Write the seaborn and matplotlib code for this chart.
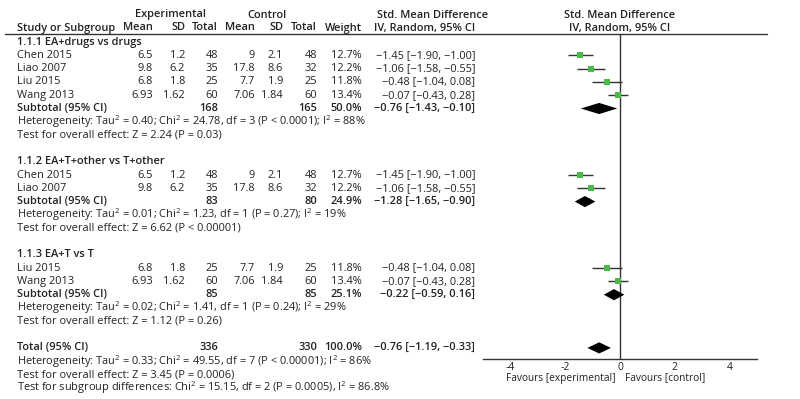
import matplotlib
matplotlib.use("Agg")
import matplotlib.pyplot as plt
import matplotlib.transforms as mtransforms
import pandas as pd
import seaborn as sns

# ---- data ----
group_titles = ["1.1.1 EA+drugs vs drugs", "1.1.2 EA+T+other vs T+other", "1.1.3 EA+T vs T"]
group_ids = [0, 0, 0, 0, 1, 1, 2, 2]
studies = ["Chen 2015", "Liao 2007", "Liu 2015", "Wang 2013",
           "Chen 2015", "Liao 2007",
           "Liu 2015", "Wang 2013"]
exp_mean = ["6.5", "9.8", "6.8", "6.93", "6.5", "9.8", "6.8", "6.93"]
exp_sd = ["1.2", "6.2", "1.8", "1.62", "1.2", "6.2", "1.8", "1.62"]
exp_n = [48, 35, 25, 60, 48, 35, 25, 60]
ctl_mean = ["9", "17.8", "7.7", "7.06", "9", "17.8", "7.7", "7.06"]
ctl_sd = ["2.1", "8.6", "1.9", "1.84", "2.1", "8.6", "1.9", "1.84"]
ctl_n = [48, 32, 25, 60, 48, 32, 25, 60]
weights = ["12.7%", "12.2%", "11.8%", "13.4%", "12.7%", "12.2%", "11.8%", "13.4%"]
smd = [-1.45, -1.06, -0.48, -0.07, -1.45, -1.06, -0.48, -0.07]
ci_lo = [-1.90, -1.58, -1.04, -0.43, -1.90, -1.58, -1.04, -0.43]
ci_hi = [-1.00, -0.55, 0.08, 0.28, -1.00, -0.55, 0.08, 0.28]

sub_exp_n = [168, 83, 85]
sub_ctl_n = [165, 80, 85]
sub_weight = ["50.0%", "24.9%", "25.1%"]
sub_smd = [-0.76, -1.28, -0.22]
sub_lo = [-1.43, -1.65, -0.59]
sub_hi = [-0.10, -0.90, 0.16]
sub_het = ["Heterogeneity: Tau$^2$ = 0.40; Chi$^2$ = 24.78, df = 3 (P < 0.0001); I$^2$ = 88%",
           "Heterogeneity: Tau$^2$ = 0.01; Chi$^2$ = 1.23, df = 1 (P = 0.27); I$^2$ = 19%",
           "Heterogeneity: Tau$^2$ = 0.02; Chi$^2$ = 1.41, df = 1 (P = 0.24); I$^2$ = 29%"]
sub_test = ["Test for overall effect: Z = 2.24 (P = 0.03)",
            "Test for overall effect: Z = 6.62 (P < 0.00001)",
            "Test for overall effect: Z = 1.12 (P = 0.26)"]

total_exp_n = 336
total_ctl_n = 330
total_weight = "100.0%"
total_smd = -0.76
total_lo = -1.19
total_hi = -0.33
total_notes = ["Heterogeneity: Tau$^2$ = 0.33; Chi$^2$ = 49.55, df = 7 (P < 0.00001); I$^2$ = 86%",
               "Test for overall effect: Z = 3.45 (P = 0.0006)",
               "Test for subgroup differences: Chi$^2$ = 15.15, df = 2 (P = 0.0005), I$^2$ = 86.8%"]

x_ticks = [-4, -2, 0, 2, 4]

# ---- build row layout ----
study_rows = []
sub_rows = []
rows_text = []  # (row, kind, text)
r = 0
for g, title in enumerate(group_titles):
    rows_text.append((r, "title", title))
    r += 1
    for i, gid in enumerate(group_ids):
        if gid == g:
            study_rows.append(r)
            r += 1
    sub_rows.append(r)
    r += 1
    rows_text.append((r, "note", sub_het[g]))
    r += 1
    rows_text.append((r, "note", sub_test[g]))
    r += 2
total_row = r
for k, note in enumerate(total_notes):
    rows_text.append((total_row + 1 + k, "note", note))

df = pd.DataFrame({"study": studies, "smd": smd, "lo": ci_lo, "hi": ci_hi,
                   "row": study_rows})

# ---- figure ----
sns.set_style("white")
plt.rcParams["font.family"] = ["Open Sans", "DejaVu Sans"]
plt.rcParams["mathtext.fontset"] = "custom"
plt.rcParams["mathtext.rm"] = "Open Sans"
W, H = 800, 399
fig = plt.figure(figsize=(8, 3.99), dpi=100)

row0_px, row_h = 42.0, 13.3
top_px, bot_px = 34.0, 359.0
ax_left, ax_right = 483.0, 757.0
ax = fig.add_axes([ax_left / W, 1 - bot_px / H, (ax_right - ax_left) / W, (bot_px - top_px) / H])
ax.set_xlim(-5, 5)
ax.set_ylim((bot_px - row0_px) / row_h, (top_px - row0_px) / row_h)

ink = "#222222"
for s in ["top", "right", "left"]:
    ax.spines[s].set_visible(False)
ax.spines["bottom"].set_color("#333333")
ax.spines["bottom"].set_linewidth(1.0)
ax.set_yticks([])
ax.set_xticks(x_ticks)
ax.set_xticklabels([str(t) for t in x_ticks], fontsize=7.5, color=ink)
ax.tick_params(axis="x", direction="inout", length=6, width=1, color="#333333", pad=-1)
ax.axvline(0, color="#333333", lw=1.0)

# CI lines + squares
ax.hlines(df["row"], df["lo"], df["hi"], color="#333333", lw=1.0)
sns.scatterplot(data=df, x="smd", y="row", marker="s", s=18, color="#4cb84c",
                edgecolor="none", ax=ax, zorder=3, legend=False)
ax.set_xlabel("")
ax.set_ylabel("")

def diamond(row, c, lo, hi, hh=0.42):
    ax.fill([lo, c, hi, c], [row, row - hh, row, row + hh], color="black", lw=0, zorder=3)

for k in range(3):
    diamond(sub_rows[k], sub_smd[k], sub_lo[k], sub_hi[k])
diamond(total_row, total_smd, total_lo, total_hi)

# ---- table text ----
tr = mtransforms.blended_transform_factory(fig.transFigure, ax.transData)
fs = 7.9

def put(xpx, row, s, ha="right", bold=False):
    ax.text(xpx / W, row, s, transform=tr, ha=ha, va="center", fontsize=fs,
            fontweight="semibold" if bold else "normal", color=ink, clip_on=False)

col_x = {"mean1": 153, "sd1": 185, "n1": 218, "mean2": 255, "sd2": 283, "n2": 317,
         "w": 362, "ci": 475}
name_x = 17

for row, kind, txt in rows_text:
    put(name_x, row, txt, ha="left", bold=(kind == "title"))

for i in range(len(studies)):
    row = study_rows[i]
    put(name_x, row, studies[i], ha="left")
    put(col_x["mean1"], row, exp_mean[i])
    put(col_x["sd1"], row, exp_sd[i])
    put(col_x["n1"], row, str(exp_n[i]))
    put(col_x["mean2"], row, ctl_mean[i])
    put(col_x["sd2"], row, ctl_sd[i])
    put(col_x["n2"], row, str(ctl_n[i]))
    put(col_x["w"], row, weights[i])
    put(col_x["ci"], row, f"{smd[i]:.2f} [{ci_lo[i]:.2f}, {ci_hi[i]:.2f}]".replace("-", "\u2212"))

for k in range(3):
    row = sub_rows[k]
    put(name_x, row, "Subtotal (95% CI)", ha="left", bold=True)
    put(col_x["n1"], row, str(sub_exp_n[k]), bold=True)
    put(col_x["n2"], row, str(sub_ctl_n[k]), bold=True)
    put(col_x["w"], row, sub_weight[k], bold=True)
    put(col_x["ci"], row, f"{sub_smd[k]:.2f} [{sub_lo[k]:.2f}, {sub_hi[k]:.2f}]".replace("-", "\u2212"), bold=True)

put(name_x, total_row, "Total (95% CI)", ha="left", bold=True)
put(col_x["n1"], total_row, str(total_exp_n), bold=True)
put(col_x["n2"], total_row, str(total_ctl_n), bold=True)
put(col_x["w"], total_row, total_weight, bold=True)
put(col_x["ci"], total_row, f"{total_smd:.2f} [{total_lo:.2f}, {total_hi:.2f}]".replace("-", "\u2212"), bold=True)

# headers
def hdr(xpx, ypx, s, ha="center"):
    fig.text(xpx / W, 1 - ypx / H, s, ha=ha, va="center", fontsize=fs,
             fontweight="semibold", color=ink)

hdr(170, 15, "Experimental")
hdr(267, 15, "Control")
hdr(433, 15, "Std. Mean Difference")
hdr(620, 15, "Std. Mean Difference")
hdr(name_x, 28, "Study or Subgroup", ha="left")
for key, lab in [("mean1", "Mean"), ("sd1", "SD"), ("n1", "Total"), ("mean2", "Mean"),
                 ("sd2", "SD"), ("n2", "Total"), ("w", "Weight")]:
    hdr(col_x[key], 28, lab, ha="right")
hdr(col_x["ci"], 28, "IV, Random, 95% CI", ha="right")
hdr(620, 28, "IV, Random, 95% CI")

# header rule
fig.add_artist(plt.Line2D([5 / W, 767 / W], [1 - top_px / H, 1 - top_px / H],
                          transform=fig.transFigure, color="#333333", lw=1.0))

# favours labels
fig.text(615 / W, 1 - 378 / H, "Favours [experimental]", ha="right", va="center", fontsize=7.3, color=ink)
fig.text(625 / W, 1 - 378 / H, "Favours [control]", ha="left", va="center", fontsize=7.3, color=ink)

fig.savefig("out.png", dpi=100, facecolor="white")
